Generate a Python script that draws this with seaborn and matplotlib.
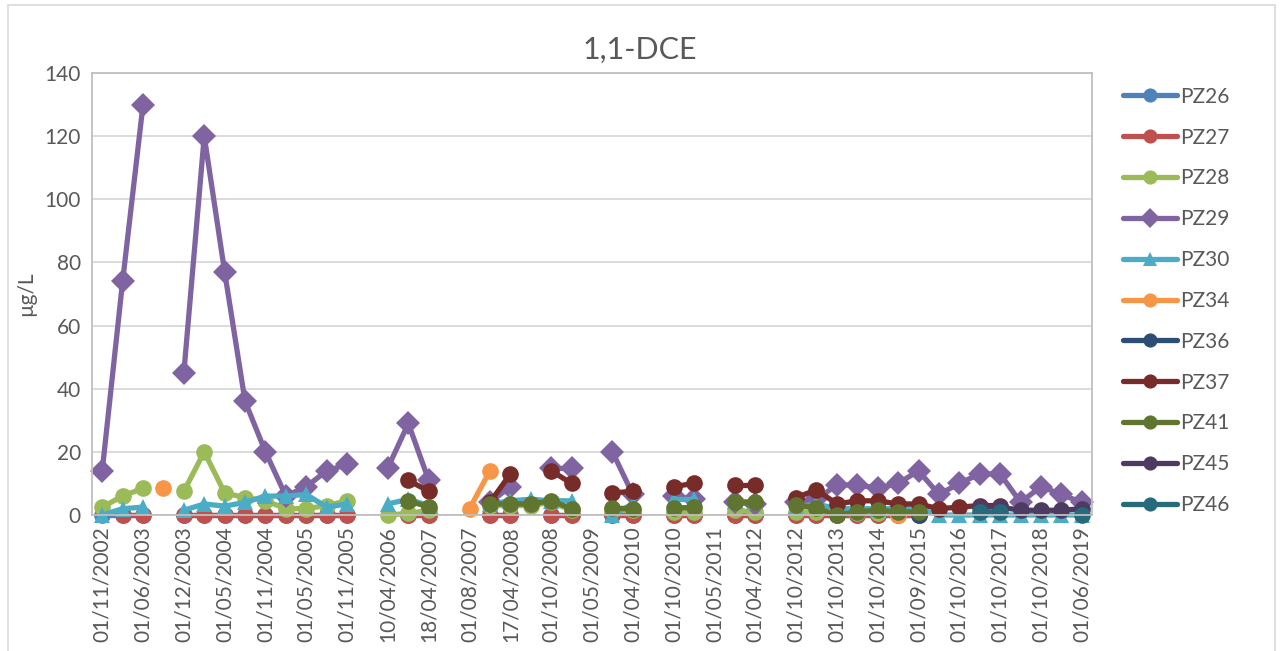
import seaborn as sns
import pandas as pd
import matplotlib.pyplot as plt
from matplotlib.patches import Rectangle

N = None

# every other sampling date is labelled on the category axis
tick_labels = ['01/11/2002', '01/06/2003', '01/12/2003', '01/05/2004', '01/11/2004',
               '01/05/2005', '01/11/2005', '10/04/2006', '18/04/2007', '01/08/2007',
               '17/04/2008', '01/10/2008', '01/05/2009', '01/04/2010', '01/10/2010',
               '01/05/2011', '01/04/2012', '01/10/2012', '01/10/2013', '01/10/2014',
               '01/09/2015', '01/10/2016', '01/10/2017', '01/10/2018', '01/06/2019']

pz26 = [0, 0, 0, N, 0, 0, 0, 0, 0, 0,
        0, 0, 0, N, N, 0, 0, N, N, 0,
        0, N, 0, 0, N, 0, 0, N, 0, 0,
        N, 0, 0, N, 0, 0, 0, 0, 0, 0,
        0, N, N, N, N, N, N, N, N]
pz27 = [N, 0, 0, N, 0, 0, 0, 0, 0, 0,
        0, 0, 0, N, N, 0, 0, N, N, 0,
        0, N, 0, 0, N, 0, 0, N, 0, 0,
        N, 0, 0, N, 0, 0, 0, 0, 0, 0,
        0, N, N, N, N, N, N, N, N]
pz28 = [2.5, 6, 8.5, N, 7.5, 20, 7, 5.5, 4.5, 2,
        2, 3, 4.5, N, 0, 0.5, 1.5, N, N, 3,
        3, 3, 4, 1.5, N, 1.5, 1.5, N, 1, 1,
        N, 1.5, 1, N, 1, 1, 0.5, 0.5, 0.5, 0.5,
        0.5, N, N, N, N, N, N, N, N]
pz29 = [14, 74, 130, N, 45, 120, 77, 36, 20, 6,
        9, 14, 16, N, 15, 29, 11, N, N, 4,
        9, N, 15, 15, N, 20, 6.5, N, 6, 5,
        N, 4, 3.5, N, 4, 5, 9.5, 9.5, 8.5, 10,
        14, 6.5, 10, 13, 13, 4, 9, 6.5, 4]
pz30 = [0, 2, 2.5, N, 1.5, 3.5, 2.8, 4, 6, 6,
        6.5, 2.5, 3.5, N, 3.5, 5, 3, N, N, 3.5,
        4.5, 5, 4.5, 4.5, N, 0, 3.5, N, 5, 5,
        N, 4.5, 4, N, 2.5, 3.5, 2, 2, 2, 2,
        2, 0, 0, 0, 0, 0, 0, 0, 0]
pz34 = [N, N, N, 8.5, N, N, N, N, N, N,
        N, N, N, N, N, N, N, N, 2, 14,
        N, N, N, N, N, N, N, N, N, N,
        N, N, N, N, N, N, N, N, N, 0,
        N, N, N, N, N, N, N, N, N]
pz36 = [N, N, N, N, N, N, N, N, N, N,
        N, N, N, N, N, N, N, N, N, N,
        N, N, N, N, N, N, N, N, N, N,
        N, N, N, N, N, N, N, N, N, N,
        0, N, N, N, N, N, N, N, N]
pz37 = [N, N, N, N, N, N, N, N, N, N,
        N, N, N, N, N, 11, 7.5, N, N, 4,
        13, N, 14, 10, N, 7, 7.5, N, 9, 10,
        N, 9.5, 9.5, N, 5.5, 8, 3.5, 4.5, 4.5, 3.5,
        3.5, 2, 2.5, 3, 3, N, N, N, N]
pz41 = [N, N, N, N, N, N, N, N, N, N,
        N, N, N, N, N, 4.5, 2.5, N, N, 3.5,
        3.5, 3.5, 4.5, 2, N, 2.2, 2, N, 2.2, 2.4,
        N, 4, 4, N, 3.2, 2.2, 0, 1, 1.5, 1,
        1, N, N, N, N, N, N, N, N]
pz45 = [N, N, N, N, N, N, N, N, N, N,
        N, N, N, N, N, N, N, N, N, N,
        N, N, N, N, N, N, N, N, N, N,
        N, N, N, N, N, N, N, N, N, N,
        N, N, N, 2.5, 2.5, 1.5, 1.5, 1.5, 2]
pz46 = [N, N, N, N, N, N, N, N, N, N,
        N, N, N, N, N, N, N, N, N, N,
        N, N, N, N, N, N, N, N, N, N,
        N, N, N, N, N, N, N, N, N, N,
        N, N, N, 1, 1, N, N, N, 0]

wells = {'PZ26': pz26, 'PZ27': pz27, 'PZ28': pz28, 'PZ29': pz29, 'PZ30': pz30,
         'PZ34': pz34, 'PZ36': pz36, 'PZ37': pz37, 'PZ41': pz41, 'PZ45': pz45,
         'PZ46': pz46}
colors = {'PZ26': '#4F81BD', 'PZ27': '#C0504D', 'PZ28': '#9BBB59', 'PZ29': '#8064A2',
          'PZ30': '#4BACC6', 'PZ34': '#F79646', 'PZ36': '#2C4D75', 'PZ37': '#772C2A',
          'PZ41': '#5F7530', 'PZ45': '#4D3B62', 'PZ46': '#276A7C'}
markers = {w: 'o' for w in wells}
markers['PZ29'] = 'D'
markers['PZ30'] = '^'

# long format, a new segment after each missing value so lines break like Excel
rows = []
for name, vals in wells.items():
    seg = 0
    for i, v in enumerate(vals):
        if v is None:
            seg += 1
            continue
        rows.append({'idx': i, 'value': v, 'well': name, 'seg': f'{name}_{seg}'})
df = pd.DataFrame(rows)

sns.set_theme(style='white')
plt.rcParams['font.family'] = ['Lato', 'DejaVu Sans']
grey = '#595959'

fig = plt.figure(figsize=(12.8, 6.51), dpi=100)
ax = fig.add_axes([92 / 1280, 1 - 515 / 651, 1000 / 1280, 442 / 651])

names = list(wells)
sns.lineplot(data=df, x='idx', y='value', hue='well', style='well', units='seg',
             estimator=None, hue_order=names, style_order=names, palette=colors,
             markers=markers, dashes=False, linewidth=3.8, markersize=12,
             markeredgewidth=0, ax=ax)
for ln in ax.lines:
    ln.set_clip_on(False)

ax.set_xlim(-0.5, len(pz29) - 0.5)
ax.set_ylim(0, 140)
ax.set_yticks(range(0, 141, 20))
ax.set_xticks(range(0, len(pz29), 2))
ax.set_xticklabels(tick_labels, rotation=90)
ax.tick_params(axis='both', length=0, labelsize=15, labelcolor=grey, pad=8)
ax.yaxis.grid(True, color='#D9D9D9', lw=1.3)
ax.set_axisbelow(True)
for s in ax.spines.values():
    s.set_color('#BFBFBF')
    s.set_linewidth(1.3)
ax.set_xlabel('')
ax.set_ylabel('µg/L', fontsize=15, color=grey, labelpad=6)

handles, labels = ax.get_legend_handles_labels()
ax.get_legend().remove()
fig.legend(handles, labels, loc='upper left', bbox_to_anchor=(1104 / 1280, 1 - 68 / 651),
           frameon=False, fontsize=15, labelcolor=grey, handlelength=2.6,
           labelspacing=1.0, handletextpad=0.15, markerscale=0.85)

fig.text(0.5, 1 - 50 / 651, '1,1-DCE', ha='center', va='center', fontsize=22, color=grey)

fig.patches.append(Rectangle((8 / 1280, -0.02), 1267 / 1280, 1.02 - 5 / 651,
                             transform=fig.transFigure, fill=False,
                             edgecolor='#D9D9D9', lw=1.2))

fig.savefig('out.png', dpi=100)
